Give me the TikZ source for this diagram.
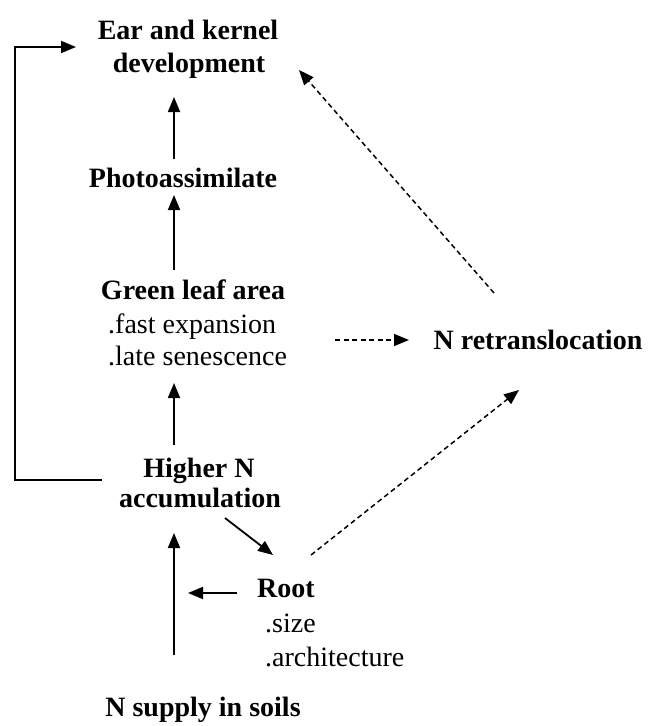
\documentclass[tikz,border=0pt]{standalone}
\usepackage{fontspec}
\setmainfont{Liberation Serif}
\usetikzlibrary{arrows.meta}
\begin{document}
\begin{tikzpicture}[x=1pt,y=-1pt,
  lbl/.style={inner sep=0pt,font=\fontsize{28}{33}\selectfont\bfseries},
  sub/.style={inner sep=0pt,font=\fontsize{28}{33}\selectfont},
  arr/.style={line width=1.8pt,-{Triangle[length=15pt,width=12pt]}},
  darr/.style={line width=1.5pt,dash pattern=on 5pt off 3.5pt,-{Triangle[length=15pt,width=12pt]}}]
\useasboundingbox (0,0) rectangle (662,726);
% text nodes
\node[lbl,anchor=base] (ear1) at (188,39) {Ear and kernel};
\node[lbl,anchor=base] (ear2) at (189,72) {development};
\node[lbl,anchor=base] (photo) at (183,187) {Photoassimilate};
\node[lbl,anchor=base] (green) at (193,299) {Green leaf area};
\node[sub,anchor=base west] (fast) at (108,333) {.fast expansion};
\node[sub,anchor=base west] (late) at (108,365) {.late senescence};
\node[lbl,anchor=base] (nret) at (538,349) {N retranslocation};
\node[lbl,anchor=base] (high1) at (199,477) {Higher N};
\node[lbl,anchor=base] (high2) at (200,507) {accumulation};
\node[lbl,anchor=base west] (root) at (257,597) {Root};
\node[sub,anchor=base west] (size) at (265,632) {.size};
\node[sub,anchor=base west] (arch) at (265,666) {.architecture};
\node[lbl,anchor=base] (soil) at (203,716) {N supply in soils};
% connector end points
\coordinate (pe-s) at (174,159); \coordinate (pe-e) at (174,97);
\coordinate (gp-s) at (174,270); \coordinate (gp-e) at (174,195);
\coordinate (hg-s) at (174,445); \coordinate (hg-e) at (174,383);
\coordinate (sh-s) at (174,655); \coordinate (sh-e) at (174,533);
\coordinate (rh-s) at (237,593); \coordinate (rh-e) at (188,593);
\coordinate (hr-s) at (225,518); \coordinate (hr-e) at (273,555);
\coordinate (gn-s) at (335,340); \coordinate (gn-e) at (409,340);
\coordinate (ne-s) at (494,293); \coordinate (ne-e) at (299,70);
\coordinate (rn-s) at (311,555); \coordinate (rn-e) at (519,390);
\coordinate (br-s) at (102,480); \coordinate (br-a) at (15,480);
\coordinate (br-b) at (15,47); \coordinate (br-e) at (76,47);
% connectors
\draw[arr] (pe-s) -- (pe-e);
\draw[arr] (gp-s) -- (gp-e);
\draw[arr] (hg-s) -- (hg-e);
\draw[arr] (sh-s) -- (sh-e);
\draw[arr] (rh-s) -- (rh-e);
\draw[arr] (hr-s) -- (hr-e);
\draw[darr] (gn-s) -- (gn-e);
\draw[darr] (ne-s) -- (ne-e);
\draw[darr] (rn-s) -- (rn-e);
\draw[arr] (br-s) -- (br-a) -- (br-b) -- (br-e);
\end{tikzpicture}
\end{document}
